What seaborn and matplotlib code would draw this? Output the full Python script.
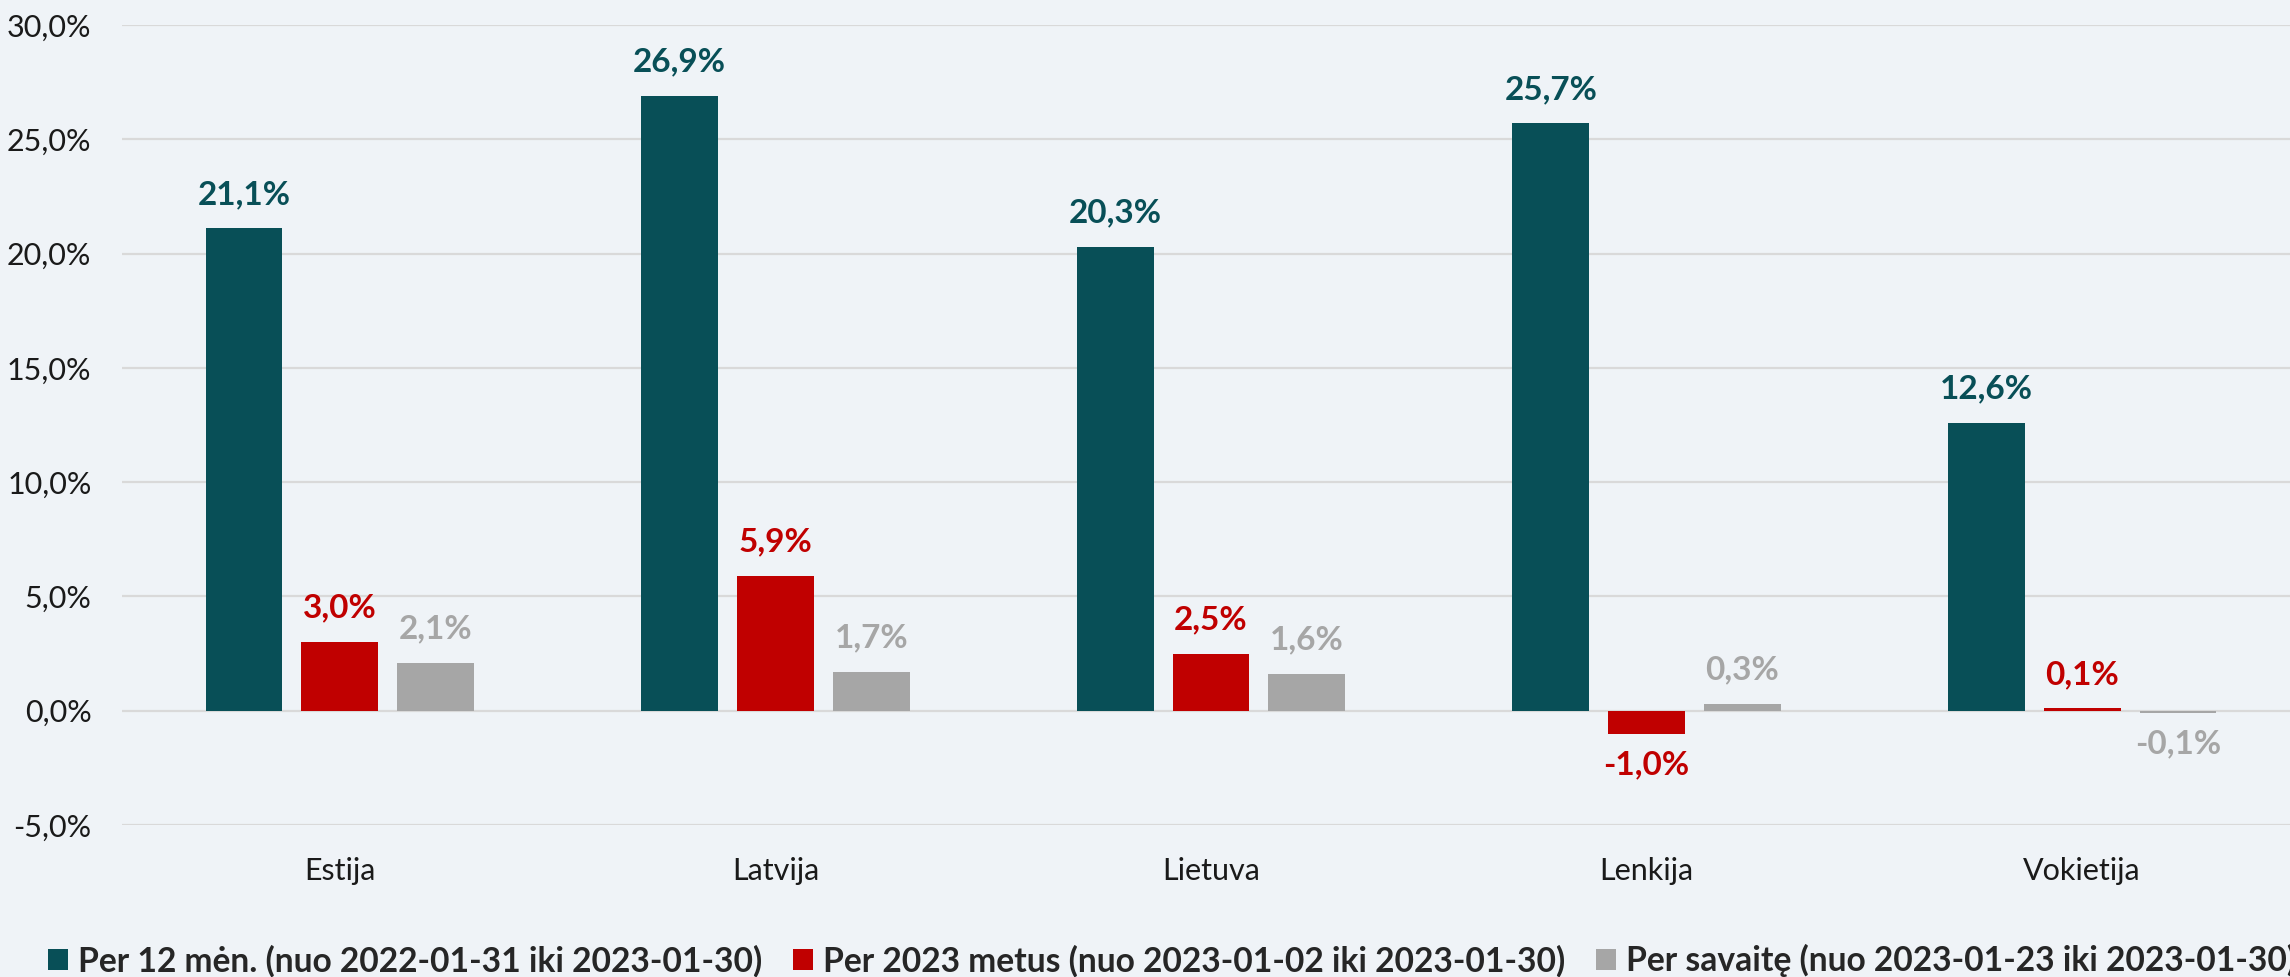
import pandas as pd
import matplotlib
matplotlib.use('Agg')
import matplotlib.pyplot as plt
import seaborn as sns
from matplotlib.patches import Patch
from matplotlib.ticker import FuncFormatter, MultipleLocator

# Duomenys
salys = ['Estija', 'Latvija', 'Lietuva', 'Lenkija', 'Vokietija']
serijos = ['Per 12 mėn. (nuo 2022-01-31 iki 2023-01-30)',
           'Per 2023 metus (nuo 2023-01-02 iki 2023-01-30)',
           'Per savaitę (nuo 2023-01-23 iki 2023-01-30)']
per_12_men = [21.1, 26.9, 20.3, 25.7, 12.6]
per_2023 = [3.0, 5.9, 2.5, -1.0, 0.1]
per_savaite = [2.1, 1.7, 1.6, 0.3, -0.1]
spalvos = ['#084F57', '#C00000', '#A6A6A6']

df = pd.DataFrame({
    'Šalis': salys * 3,
    'Serija': [serijos[0]] * 5 + [serijos[1]] * 5 + [serijos[2]] * 5,
    'Reikšmė': per_12_men + per_2023 + per_savaite,
})

fonas = '#EFF3F7'
sns.set_theme(style='white')
plt.rcParams['font.family'] = ['Lato', 'DejaVu Sans']

fig = plt.figure(figsize=(22.9, 9.77), dpi=100, facecolor=fonas)
# ašis tęsiasi šiek tiek už paveikslo krašto, kaip originale
ax = fig.add_axes([122 / 2290, 152 / 977, 2178 / 2290, 800 / 977])
ax.set_facecolor(fonas)

sns.barplot(data=df, x='Šalis', y='Reikšmė', hue='Serija', palette=spalvos,
            width=0.66, gap=0.2, ax=ax, legend=False, errorbar=None, zorder=3,
            linewidth=0, saturation=1)

ax.set_ylim(-5, 30)
ax.yaxis.set_major_locator(MultipleLocator(5))
ax.yaxis.set_major_formatter(FuncFormatter(lambda v, p: f'{v:.1f}'.replace('.', ',') + '%'))
ax.grid(axis='y', color='#D9D9D9', linewidth=1.6, zorder=0)
ax.grid(axis='x', visible=False)
for s in ax.spines.values():
    s.set_visible(False)
ax.set_xlabel('')
ax.set_ylabel('')
ax.tick_params(axis='y', labelsize=22, pad=22, length=0, labelcolor='#1a1a1a')
ax.tick_params(axis='x', labelsize=22, pad=23, length=0, labelcolor='#1a1a1a')

# Reikšmių etiketės
for cont, spalva in zip(ax.containers, spalvos):
    for bar in cont:
        v = bar.get_height()
        x = bar.get_x() + bar.get_width() / 2
        txt = f'{v:.1f}'.replace('.', ',') + '%'
        if v >= 0:
            ax.annotate(txt, (x, v), xytext=(0, 14), textcoords='offset points',
                        ha='center', va='bottom', color=spalva, fontsize=24,
                        fontweight='bold')
        else:
            ax.annotate(txt, (x, v), xytext=(0, -12), textcoords='offset points',
                        ha='center', va='top', color=spalva, fontsize=24,
                        fontweight='bold')

handles = [Patch(facecolor=c, edgecolor='none', label=l) for c, l in zip(spalvos, serijos)]
fig.legend(handles=handles, loc='lower left', bbox_to_anchor=(28 / 2290, -0.021),
           ncol=3, frameon=False, prop={'weight': 'bold', 'size': 24.2},
           handlelength=0.6, handleheight=0.6, handletextpad=0.3, columnspacing=0.9,
           borderaxespad=0.2)

fig.savefig('out.png', dpi=100, facecolor=fonas)
